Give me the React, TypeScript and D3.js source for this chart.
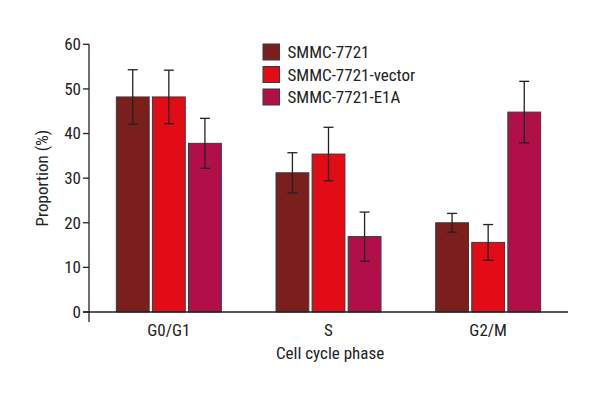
import React from "react";
import * as d3 from "d3";

const categories = ["G0/G1", "S", "G2/M"];
const seriesNames = ["SMMC-7721", "SMMC-7721-vector", "SMMC-7721-E1A"];
const seriesColors = ["#7b1f1c", "#e20c17", "#b10f47"];
const valsParent = [48.2, 31.2, 20.0];
const valsVector = [48.2, 35.4, 15.6];
const valsE1A = [37.8, 16.9, 44.8];
const errParent = [6.1, 4.5, 2.1];
const errVector = [6.0, 6.0, 4.0];
const errE1A = [5.6, 5.5, 6.9];
const yTicks = [0, 10, 20, 30, 40, 50, 60];

const values = [valsParent, valsVector, valsE1A];
const errors = [errParent, errVector, errE1A];

const FONT = "'Liberation Sans Narrow', 'Arial Narrow', 'Roboto Condensed', sans-serif";

export default function App() {
  const W = 600, H = 400;
  const x0 = 89, x1 = 568, yTop = 44.3, yBot = 312;
  const y = d3.scaleLinear().domain([0, 60]).range([yBot, yTop]);
  const xBand = d3.scaleBand<string>().domain(categories).range([x0, x1]).padding(0);
  const groupW = 105;
  const inner = d3.scaleBand<string>().domain(seriesNames).range([0, groupW]).paddingInner(0.09).paddingOuter(0);

  return (
    <svg width={W} height={H} style={{ position: "absolute", left: 0, top: 0, background: "#fff" }} fontFamily={FONT}>
      {categories.map((c, ci) => {
        const gx = (xBand(c) as number) + xBand.bandwidth() / 2 - groupW / 2;
        return (
          <g key={c}>
            {seriesNames.map((s, si) => {
              const v = values[si][ci];
              const e = errors[si][ci];
              const bx = gx + (inner(s) as number);
              const bw = inner.bandwidth();
              const cx = bx + bw / 2;
              return (
                <g key={s}>
                  <rect x={bx} y={y(v)} width={bw} height={yBot - y(v)} fill={seriesColors[si]} stroke="#3a3a3a" strokeWidth={1} />
                  <line x1={cx} x2={cx} y1={y(v + e)} y2={y(v - e)} stroke="#222" strokeWidth={1.3} />
                  <line x1={cx - 5} x2={cx + 5} y1={y(v + e)} y2={y(v + e)} stroke="#222" strokeWidth={1.3} />
                  <line x1={cx - 5} x2={cx + 5} y1={y(v - e)} y2={y(v - e)} stroke="#222" strokeWidth={1.3} />
                </g>
              );
            })}
            <text x={(xBand(c) as number) + xBand.bandwidth() / 2} y={336} textAnchor="middle" fontSize={17} fill="#222">{c}</text>
          </g>
        );
      })}
      {/* axes */}
      <line x1={x0} x2={x0} y1={yTop} y2={322} stroke="#222" strokeWidth={1.3} />
      <line x1={83} x2={x1} y1={yBot} y2={yBot} stroke="#222" strokeWidth={1.3} />
      {yTicks.map(t => (
        <g key={t}>
          <line x1={83} x2={x0} y1={y(t)} y2={y(t)} stroke="#222" strokeWidth={1.3} />
          <text x={81} y={y(t)} dy="0.35em" textAnchor="end" fontSize={17} fill="#222">{t}</text>
        </g>
      ))}
      <text x={330} y={359} textAnchor="middle" fontSize={17} fill="#222">Cell cycle phase</text>
      <text transform={`translate(48,${y(30)}) rotate(-90)`} textAnchor="middle" fontSize={17} fill="#222">Proportion (%)</text>
      {/* legend */}
      {seriesNames.map((s, i) => (
        <g key={s} transform={`translate(263,${44 + i * 22.5})`}>
          <rect x={0} y={0} width={16.5} height={16} fill={seriesColors[i]} stroke="#3a3a3a" strokeWidth={1} />
          <text x={24.5} y={8} dy="0.36em" fontSize={17} fill="#222">{s}</text>
        </g>
      ))}
    </svg>
  );
}
